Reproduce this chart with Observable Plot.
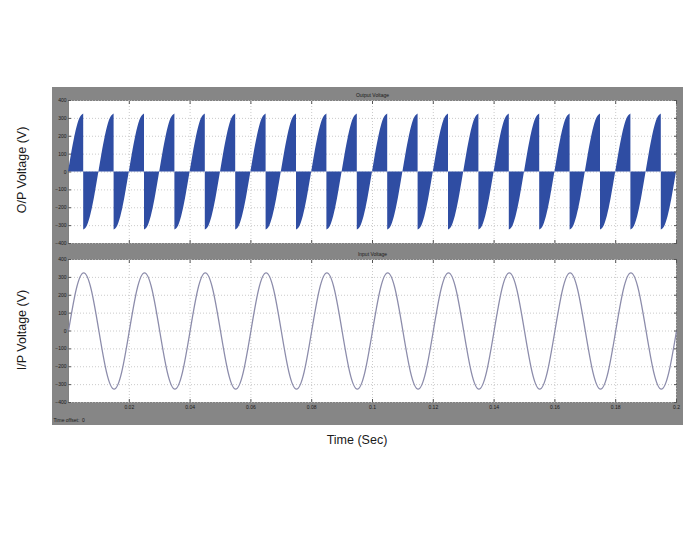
<!DOCTYPE html>
<html>
<head>
<meta charset="utf-8">
<script src="https://cdn.jsdelivr.net/npm/d3@7"></script>
<script src="https://cdn.jsdelivr.net/npm/@observablehq/plot@0.6"></script>
<style>
  html, body { margin: 0; padding: 0; background: #fff; width: 696px; height: 538px; overflow: hidden; }
  body { position: relative; font-family: "Liberation Sans", Arial, sans-serif; }
  #scope { position: absolute; left: 52px; top: 87px; width: 631px; height: 338px; background: #868686; }
  #scope svg { display: block; }
  .lab { position: absolute; font-size: 12.5px; color: #1a1a1a; white-space: nowrap; }
  .rot { transform: translate(-50%, -50%) rotate(-90deg); }
  .hor { transform: translate(-50%, -50%); }
</style>
</head>
<body>
<div id="scope"></div>
<div class="lab rot" style="left:22px; top:170px;">O/P Voltage (V)</div>
<div class="lab rot" style="left:22px; top:330px;">I/P Voltage (V)</div>
<div class="lab hor" style="left:357px; top:440px;">Time (Sec)</div>
<script>
// ---- Axis ticks ----
const xTicks = [0.02, 0.04, 0.06, 0.08, 0.1, 0.12, 0.14, 0.16, 0.18, 0.2];
const xTickLabels = ["0.02", "0.04", "0.06", "0.08", "0.1", "0.12", "0.14", "0.16", "0.18", "0.2"];
const yTicks = [-400, -300, -200, -100, 0, 100, 200, 300, 400];

// ---- Input voltage (50 Hz, ~325 V peak), one cycle ----
const inputCycleOffsets = [0, 0.0025, 0.005, 0.0075, 0.01, 0.0125, 0.015, 0.0175];
const inputCycleVolts = [0, 230, 325, 230, 0, -230, -325, -230];
const inputCycleStarts = [0, 0.02, 0.04, 0.06, 0.08, 0.1, 0.12, 0.14, 0.16, 0.18];
const inputEnd = { t: 0.2, v: 0 };

// ---- Output voltage: one tooth (−325 V → +325 V over 10 ms, then a jump) ----
const toothOffsets = [0, 0.00125, 0.0025, 0.00375, 0.005, 0.00625, 0.0075, 0.00875, 0.01];
const toothVolts = [-325, -300, -230, -124, 0, 124, 230, 300, 325];
const toothStarts = [-0.005, 0.005, 0.015, 0.025, 0.035, 0.045, 0.055, 0.065, 0.075, 0.085,
                     0.095, 0.105, 0.115, 0.125, 0.135, 0.145, 0.155, 0.165, 0.175, 0.185, 0.195];

// ---- Build tables ----
const r6 = (x) => Math.round(x * 1e6) / 1e6;
const inputData = [];
inputCycleStarts.forEach((s) => inputCycleOffsets.forEach((o, i) => inputData.push({ t: r6(s + o), v: inputCycleVolts[i] })));
inputData.push(inputEnd);

const outputData = [];
toothStarts.forEach((s, k) => toothOffsets.forEach((o, i) => {
  const t = r6(s + o);
  if (t >= 0 && t <= 0.2) outputData.push({ t, v: toothVolts[i], tooth: k });
}));

const gray = "#868686";
const font = "Liberation Sans, Arial, sans-serif";
const gridStyle = { stroke: "#bdbdbd", strokeOpacity: 1, strokeDasharray: "1,2", strokeWidth: 0.8 };
const tickFmt = (d) => xTickLabels[xTicks.indexOf(d)];

function panelMarks() {
  return [
    Plot.frame({ fill: "white", stroke: "#555", strokeWidth: 0.6 }),
    Plot.gridX(xTicks, gridStyle),
    Plot.gridY(yTicks, gridStyle),
  ];
}
function axisMarks() {
  return [
    Plot.axisY(yTicks, { anchor: "left", tickSize: 0, tickPadding: 2, fontSize: 5, fill: "#1a1a1a", label: null }),
    Plot.axisY(yTicks, { anchor: "left", tickSize: 3, dx: 3, tickFormat: () => "", label: null, stroke: "#555" }),
    Plot.axisY(yTicks, { anchor: "right", tickSize: 3, dx: -3, tickFormat: () => "", label: null, stroke: "#555" }),
    Plot.axisX(xTicks, { anchor: "top", tickSize: 3, dy: 3, tickFormat: () => "", label: null, stroke: "#555" }),
  ];
}

const topPanel = Plot.plot({
  width: 631, height: 158,
  marginTop: 13, marginBottom: 2, marginLeft: 16, marginRight: 7,
  style: { background: gray, fontFamily: font, overflow: "visible" },
  x: { domain: [0, 0.2] },
  y: { domain: [-400, 400] },
  marks: [
    ...panelMarks(),
    Plot.areaY(outputData, { x: "t", y: "v", z: "tooth", curve: "natural", fill: "#2f4da3" }),
    ...axisMarks(),
    Plot.axisX(xTicks, { anchor: "bottom", tickSize: 3, dy: -3, tickFormat: () => "", label: null, stroke: "#555" }),
    Plot.text(["Output Voltage"], { frameAnchor: "top", dy: -7, fontSize: 5, fill: "#1a1a1a" })
  ]
});

const bottomPanel = Plot.plot({
  width: 631, height: 180,
  marginTop: 14, marginBottom: 23, marginLeft: 16, marginRight: 7,
  style: { background: gray, fontFamily: font, overflow: "visible" },
  x: { domain: [0, 0.2] },
  y: { domain: [-400, 400] },
  marks: [
    ...panelMarks(),
    Plot.line(inputData, { x: "t", y: "v", curve: "natural", stroke: "#8c8cab", strokeWidth: 1.3 }),
    ...axisMarks(),
    Plot.axisX(xTicks, { anchor: "bottom", tickSize: 3, dy: -3, tickFormat: () => "", label: null, stroke: "#555" }),
    Plot.axisX(xTicks, { anchor: "bottom", tickSize: 0, tickPadding: 3, tickFormat: tickFmt, fontSize: 5, fill: "#1a1a1a", label: null }),
    Plot.text(["Input Voltage"], { frameAnchor: "top", dy: -7, fontSize: 5, fill: "#1a1a1a" }),
    Plot.text(["Time offset:  0"], { frameAnchor: "bottom-left", dx: -15, dy: 19, textAnchor: "start", fontSize: 5, fill: "#1a1a1a" })
  ]
});

const scope = document.getElementById("scope");
scope.appendChild(topPanel);
scope.appendChild(bottomPanel);
</script>
</body>
</html>
